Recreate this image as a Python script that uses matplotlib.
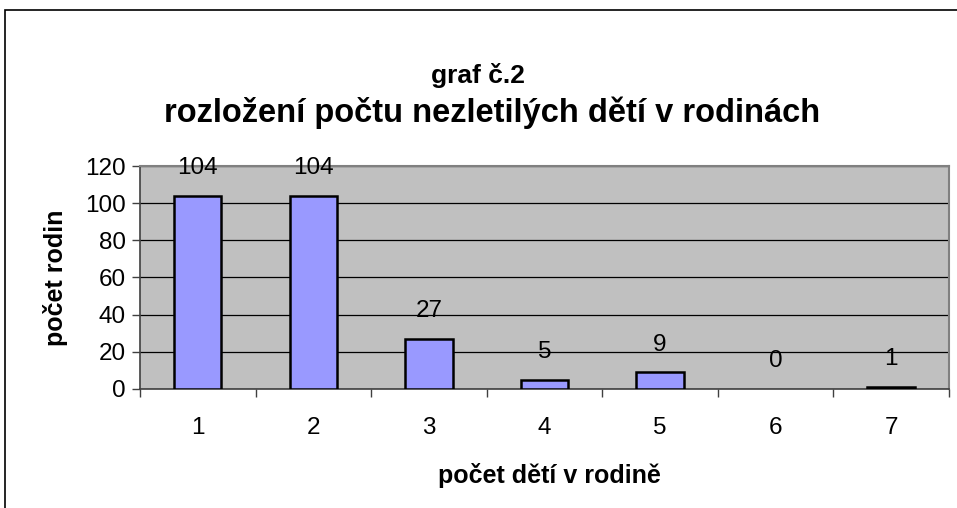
import matplotlib
matplotlib.use("Agg")
import matplotlib.pyplot as plt
from matplotlib.patches import Rectangle

categories = ["1", "2", "3", "4", "5", "6", "7"]
counts = [104, 104, 27, 5, 9, 0, 1]
y_ticks = [0, 20, 40, 60, 80, 100, 120]

plt.rcParams["font.family"] = ["Liberation Sans", "DejaVu Sans"]

fig = plt.figure(figsize=(9.57, 5.08), dpi=100)
ax = fig.add_axes([0.1463, 0.2343, 0.8453, 0.4389])

# chart frame, running off the right and bottom edges
fig.patches.append(Rectangle((0.0052, -0.05), 1.1, 1.03, transform=fig.transFigure,
                             fill=False, edgecolor="black", linewidth=1.2))

x = list(range(1, len(categories) + 1))
ax.set_facecolor("#C0C0C0")
ax.set_axisbelow(True)
ax.grid(axis="y", color="black", linewidth=0.9)
bars = ax.bar(x, counts, width=0.41, color="#9999FF", edgecolor="black", linewidth=1.8, zorder=3)
for b, v in zip(bars, counts):
    if v == 0:
        b.set_linewidth(0)
for xi, v in zip(x, counts):
    ax.annotate(str(v), (xi, v), xytext=(0, 12), textcoords="offset points",
                ha="center", va="bottom", fontsize=17.5)

ax.set_xlim(0.5, 7.5)
ax.set_ylim(0, 120)
ax.set_yticks(y_ticks)
ax.tick_params(axis="y", labelsize=17.5, length=6, width=1, color="#404040", pad=4)

# ticks between categories, labels at centres
ax.set_xticks([i + 0.5 for i in range(0, 8)])
ax.set_xticklabels([])
ax.set_xticks(x, minor=True)
ax.set_xticklabels(categories, minor=True)
ax.tick_params(axis="x", which="major", length=6, width=1, color="#404040")
ax.tick_params(axis="x", which="minor", length=0, labelsize=17.5, pad=20)

for s in ["top", "right"]:
    ax.spines[s].set_color("#808080")
    ax.spines[s].set_linewidth(1.5)
for s in ["left", "bottom"]:
    ax.spines[s].set_color("#404040")
    ax.spines[s].set_linewidth(1.2)

fig.text(478 / 957, 1 - 75 / 508, "graf č.2", ha="center", va="center", fontsize=19, fontweight="bold")
fig.text(492 / 957, 1 - 113 / 508, "rozložení počtu nezletilých dětí v rodinách", ha="center",
         va="center", fontsize=23.5, fontweight="bold")
fig.text(55 / 957, 1 - 278 / 508, "počet rodin", rotation=90, ha="center", va="center",
         fontsize=18, fontweight="bold")
fig.text(549 / 957, 1 - 476 / 508, "počet dětí v rodině", ha="center", va="center",
         fontsize=18, fontweight="bold")

fig.savefig("out.png", dpi=100)
